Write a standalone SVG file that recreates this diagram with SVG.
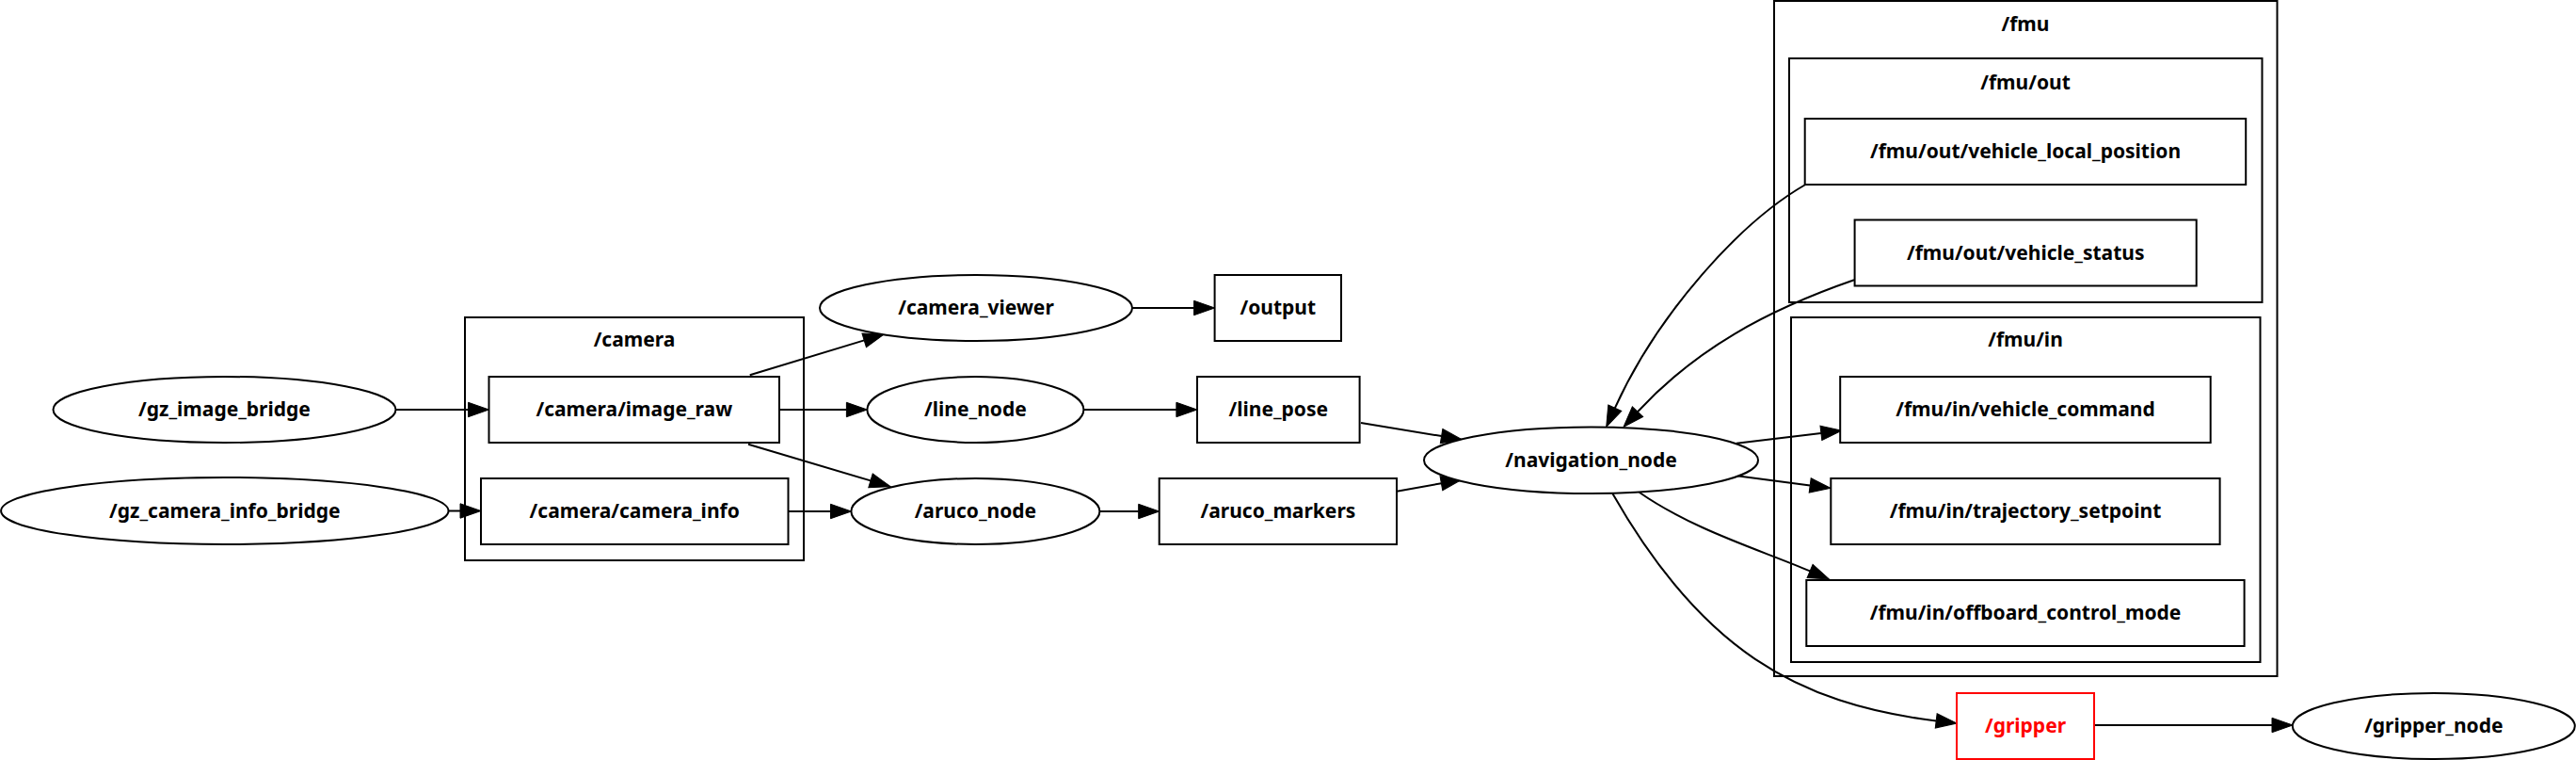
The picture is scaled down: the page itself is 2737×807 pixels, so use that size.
<svg xmlns="http://www.w3.org/2000/svg" width="2737" height="807" viewBox="0 0 2737 807">
<style>
.n{fill:#fff;stroke:#000;stroke-width:2}
.c{fill:none;stroke:#000;stroke-width:2}
.t{font-family:"Noto Sans","Open Sans","DejaVu Sans",sans-serif;font-weight:bold;font-size:21px;text-anchor:middle;fill:#000}
.e{fill:none;stroke:#000;stroke-width:2}
.red{stroke:#ff0000}
.tr{fill:#ff0000}
</style>
<defs>
<marker id="arr" markerUnits="userSpaceOnUse" markerWidth="22" markerHeight="15.4" viewBox="0 0 22 15.4" refX="0" refY="7.7" orient="auto" overflow="visible">
<path d="M0,0 L22,7.7 L0,15.4 Z" fill="#000" stroke="#000" stroke-width="1"/>
</marker>
</defs>
<rect x="0" y="0" width="2737" height="807" fill="#fff"/>

<g id="cluster_camera">
<rect class="c" x="494" y="337" width="360" height="258"/>
<text class="t" x="674" y="368">/camera</text>
</g>
<g id="cluster_fmu">
<rect class="c" x="1885" y="1" width="534.5" height="717"/>
<text class="t" x="2152" y="33">/fmu</text>
</g>
<g id="cluster_fmu_out">
<rect class="c" x="1901" y="62" width="502.5" height="259"/>
<text class="t" x="2152" y="95">/fmu/out</text>
</g>
<g id="cluster_fmu_in">
<rect class="c" x="1903" y="337" width="498.5" height="366"/>
<text class="t" x="2152" y="368">/fmu/in</text>
</g>

<g id="connectors">
<path class="e" marker-end="url(#arr)" d="M421,435 L497.5,435"/>
<path class="e" marker-end="url(#arr)" d="M476.5,542.5 L489,542.5"/>
<path class="e" marker-end="url(#arr)" d="M796.7,398.3 L918.2,361.4"/>
<path class="e" marker-end="url(#arr)" d="M828,435 L899.4,435"/>
<path class="e" marker-end="url(#arr)" d="M795,471.7 L925,510.4"/>
<path class="e" marker-end="url(#arr)" d="M837.5,543 L882.5,543"/>
<path class="e" marker-end="url(#arr)" d="M1202.7,327 L1268.6,327"/>
<path class="e" marker-end="url(#arr)" d="M1151.3,435 L1249.9,435"/>
<path class="e" marker-end="url(#arr)" d="M1168.3,543 L1209.7,543"/>
<path class="e" marker-end="url(#arr)" d="M1446,449 L1531.6,463.1"/>
<path class="e" marker-end="url(#arr)" d="M1484,521.7 L1531.4,513.2"/>
<path class="e" marker-end="url(#arr)" d="M1918.3,196 C1848.7,236 1761.3,333.1 1715.8,433.3"/>
<path class="e" marker-end="url(#arr)" d="M1970,297.3 C1875.5,330 1801.3,371.3 1740,437.2"/>
<path class="e" marker-end="url(#arr)" d="M1845,470.7 L1934.9,459.9"/>
<path class="e" marker-end="url(#arr)" d="M1843.3,505 L1923.2,515.4"/>
<path class="e" marker-end="url(#arr)" d="M1741.7,522.7 C1799.1,562.6 1867.9,583 1923.1,606.4"/>
<path class="e" marker-end="url(#arr)" d="M1713.3,524 C1807.4,689.1 1908.7,747.4 2057.2,765.4"/>
<path class="e" marker-end="url(#arr)" d="M2225,770 L2414,770"/>
</g>

<g id="gz_image_bridge">
<ellipse class="n" cx="238.5" cy="435" rx="182" ry="35"/>
<text class="t" x="238.5" y="442">/gz_image_bridge</text>
</g>
<g id="gz_camera_info_bridge">
<ellipse class="n" cx="238.8" cy="542.5" rx="237.7" ry="35.5"/>
<text class="t" x="238.8" y="549.5">/gz_camera_info_bridge</text>
</g>
<g id="camera_image_raw">
<rect class="n" x="519.5" y="400" width="308.5" height="70"/>
<text class="t" x="673.8" y="442">/camera/image_raw</text>
</g>
<g id="camera_camera_info">
<rect class="n" x="511" y="508" width="326.5" height="70"/>
<text class="t" x="674.2" y="550">/camera/camera_info</text>
</g>
<g id="camera_viewer">
<ellipse class="n" cx="1037" cy="327" rx="166" ry="35"/>
<text class="t" x="1037" y="334">/camera_viewer</text>
</g>
<g id="output">
<rect class="n" x="1290.6" y="292" width="134.4" height="70"/>
<text class="t" x="1357.8" y="334">/output</text>
</g>
<g id="line_node">
<ellipse class="n" cx="1036.4" cy="435" rx="115" ry="35"/>
<text class="t" x="1036.4" y="442">/line_node</text>
</g>
<g id="line_pose">
<rect class="n" x="1272" y="400" width="172.6" height="70"/>
<text class="t" x="1358.3" y="442">/line_pose</text>
</g>
<g id="aruco_node">
<ellipse class="n" cx="1036.4" cy="543" rx="132" ry="35"/>
<text class="t" x="1036.4" y="550">/aruco_node</text>
</g>
<g id="aruco_markers">
<rect class="n" x="1231.7" y="508" width="252.3" height="70"/>
<text class="t" x="1357.9" y="550">/aruco_markers</text>
</g>
<g id="navigation_node">
<ellipse class="n" cx="1690.5" cy="488.7" rx="177.5" ry="35.3"/>
<text class="t" x="1690.5" y="495.7">/navigation_node</text>
</g>
<g id="fmu_out_vehicle_local_position">
<rect class="n" x="1917.7" y="126" width="468.5" height="70"/>
<text class="t" x="2152" y="168">/fmu/out/vehicle_local_position</text>
</g>
<g id="fmu_out_vehicle_status">
<rect class="n" x="1970.6" y="233.5" width="363.1" height="70"/>
<text class="t" x="2152.2" y="275.5">/fmu/out/vehicle_status</text>
</g>
<g id="fmu_in_vehicle_command">
<rect class="n" x="1955.2" y="400" width="393.5" height="70"/>
<text class="t" x="2152" y="442">/fmu/in/vehicle_command</text>
</g>
<g id="fmu_in_trajectory_setpoint">
<rect class="n" x="1945.3" y="508" width="413.3" height="70"/>
<text class="t" x="2152" y="550">/fmu/in/trajectory_setpoint</text>
</g>
<g id="fmu_in_offboard_control_mode">
<rect class="n" x="1919.3" y="616" width="465.3" height="70"/>
<text class="t" x="2152" y="658">/fmu/in/offboard_control_mode</text>
</g>
<g id="gripper">
<rect class="n red" x="2079" y="736" width="146" height="70"/>
<text class="t tr" x="2152" y="778">/gripper</text>
</g>
<g id="gripper_node">
<ellipse class="n" cx="2585.8" cy="771" rx="150" ry="35"/>
<text class="t" x="2585.8" y="778">/gripper_node</text>
</g>
</svg>
